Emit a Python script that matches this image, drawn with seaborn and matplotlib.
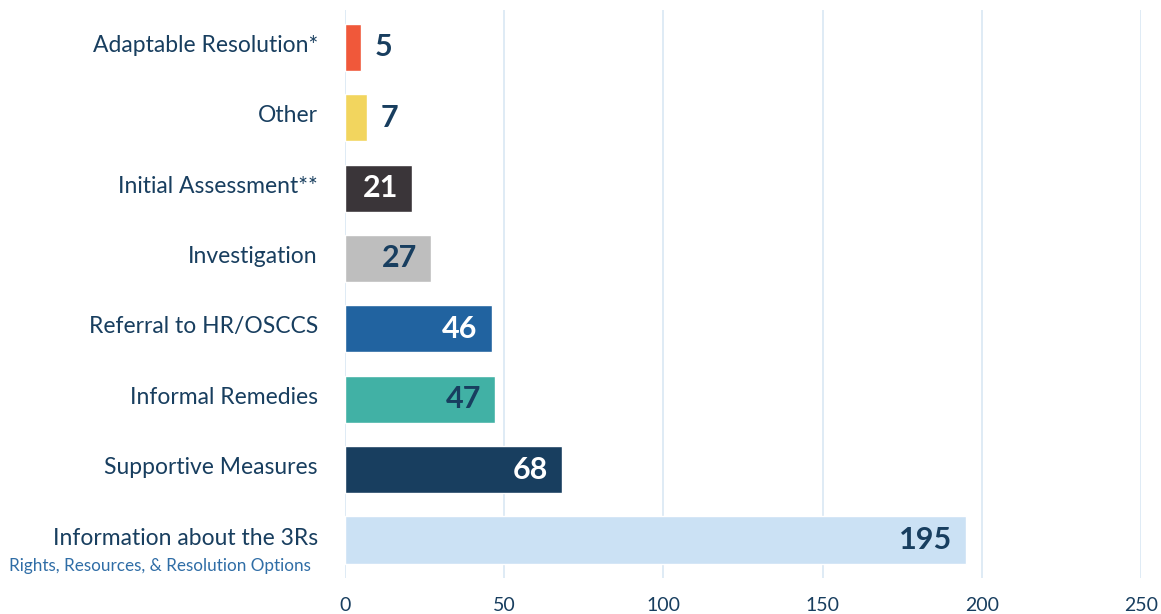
import pandas as pd
import seaborn as sns
import matplotlib.pyplot as plt
import matplotlib.transforms as mtransforms

# Data
categories = ['Adaptable Resolution*', 'Other', 'Initial Assessment**', 'Investigation',
              'Referral to HR/OSCCS', 'Informal Remedies', 'Supportive Measures',
              'Information about the 3Rs']
counts = [5, 7, 21, 27, 46, 47, 68, 195]
bar_colors = ['#F0583A', '#F2D55E', '#3A3539', '#BEBEBE',
              '#2163A0', '#41B1A5', '#183E5F', '#CBE1F4']
label_colors = ['#183E5F', '#183E5F', 'white', '#183E5F',
                'white', '#183E5F', 'white', '#183E5F']
ticks = [0, 50, 100, 150, 200, 250]

navy = '#183E5F'

df = pd.DataFrame({'category': categories, 'count': counts})

sns.set_style('white')
plt.rcParams['font.family'] = ['Lato', 'DejaVu Sans']

fig = plt.figure(figsize=(11.61, 6.14), dpi=100)
ax = fig.add_axes([0.2972, 0.0586, 0.6856, 0.9251])

sns.barplot(data=df, x='count', y='category', hue='category', palette=bar_colors,
            width=0.67, legend=False, ax=ax, saturation=1)

ax.set_xlim(0, 250)
ax.set_ylim(7.54, -0.53)
ax.set_xticks(ticks)
ax.grid(axis='x', color='#DCE9F5', linewidth=1.3)
ax.set_axisbelow(True)
for s in ax.spines.values():
    s.set_visible(False)
ax.set_xlabel('')
ax.set_ylabel('')
ax.tick_params(axis='x', length=0, pad=14, labelsize=14, labelcolor=navy)
ax.tick_params(axis='y', length=0, pad=19.5, labelsize=16.5, labelcolor=navy)

# category labels sit a little above the bar centre
shift = mtransforms.ScaledTranslation(0, 4 / 100, fig.dpi_scale_trans)
for lab in ax.get_yticklabels():
    lab.set_transform(lab.get_transform() + shift)

# value labels: inside bar for long bars, outside for short ones
for i, (v, c) in enumerate(zip(counts, label_colors)):
    if v < 10:
        ax.annotate(str(v), (v, i), xytext=(9.5, 0), textcoords='offset points',
                    ha='left', va='center', fontsize=22, fontweight='bold', color=c)
    else:
        ax.annotate(str(v), (v, i), xytext=(-10, 0), textcoords='offset points',
                    ha='right', va='center', fontsize=22, fontweight='bold', color=c)

# subtitle under the last category
fig.text(311 / 1161, 1 - 566 / 614, 'Rights, Resources, & Resolution Options',
         ha='right', va='center', fontsize=12.3, color='#2F6DA6')

fig.savefig('out.png', dpi=100)
